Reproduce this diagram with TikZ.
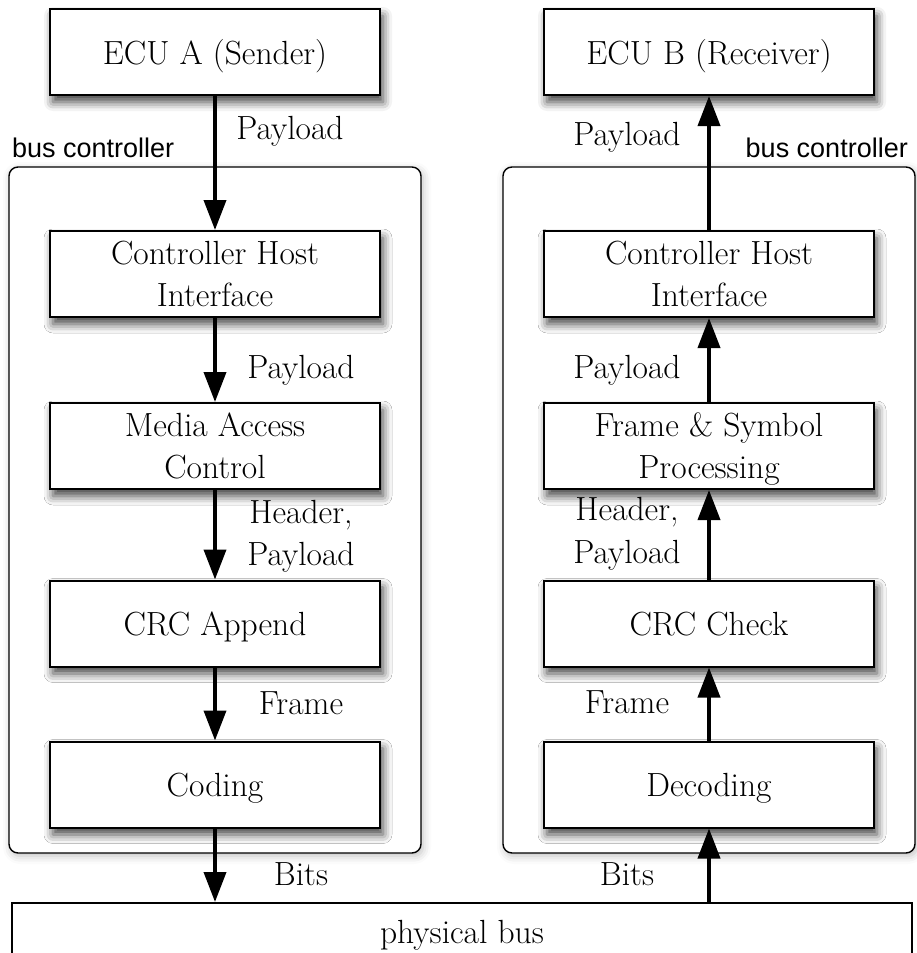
\documentclass[tikz,border=0pt]{standalone}
\usepackage{fontspec}
\newfontfamily\ctrlfont{Liberation Sans}
\usetikzlibrary{arrows.meta,shadows,shadows.blur}

\begin{document}
\begin{tikzpicture}
		[x=1pt,y=-1pt,
		every node/.style={font=\fontsize{33.5}{42}\selectfont},
		plainbox/.style={draw,line width=2pt,fill=white,align=center,inner sep=0pt,text depth=0pt,
			minimum width=330pt,minimum height=86pt},
		blockbox/.style={plainbox,
			blur shadow={shadow xshift=3pt,shadow yshift=-7pt,shadow blur radius=9pt,shadow opacity=75}},
		groupbox/.style={draw,line width=1.4pt,rounded corners=9pt,fill=white,inner sep=0pt,
			minimum width=412pt,minimum height=686pt,
			blur shadow={shadow xshift=2pt,shadow yshift=-3pt,shadow blur radius=8pt,shadow opacity=25}},
		flowlabel/.style={anchor=base,inner sep=0pt},
		ctrllabel/.style={font=\ctrlfont\fontsize{27}{32}\selectfont,inner sep=0pt},
		flowarrow/.style={line width=3.8pt,-{Triangle[width=22pt,length=30pt]}}]
		\useasboundingbox (0,0) rectangle (917,953);

		\node[groupbox] (ctrlA) at (215,510) {};
		\node[groupbox] (ctrlB) at (709,510) {};
		\node[ctrllabel,anchor=base west] (ctrlAlbl) at (12,157) {bus controller};
		\node[ctrllabel,anchor=base east] (ctrlBlbl) at (908,157) {bus controller};

		\node[blockbox] (ecuA) at (215,52) {ECU A (Sender)};
		\node[blockbox] (chiA) at (215,274) {Controller Host\\Interface};
		\node[blockbox] (macA) at (215,446) {Media Access\\Control};
		\node[blockbox] (crcA) at (215,623.5) {CRC Append};
		\node[blockbox] (codA) at (215,784.5) {Coding};

		\node[blockbox] (ecuB) at (709,52) {ECU B (Receiver)};
		\node[blockbox] (chiB) at (709,274) {Controller Host\\Interface};
		\node[blockbox] (fspB) at (709,446) {Frame \& Symbol\\Processing};
		\node[blockbox] (crcB) at (709,623.5) {CRC Check};
		\node[blockbox] (decB) at (709,784.5) {Decoding};

		\node[plainbox,minimum width=900pt,minimum height=58pt] (bus) at (462,932) {physical bus};

		\draw[flowarrow] (ecuA) -- (chiA);
		\draw[flowarrow] (chiA) -- (macA);
		\draw[flowarrow] (macA) -- (crcA);
		\draw[flowarrow] (crcA) -- (codA);
		\draw[flowarrow] (codA.south) -- (codA.south |- bus.north);

		\draw[flowarrow] (decB.south |- bus.north) -- (decB.south);
		\draw[flowarrow] (decB) -- (crcB);
		\draw[flowarrow] (crcB) -- (fspB);
		\draw[flowarrow] (fspB) -- (chiB);
		\draw[flowarrow] (chiB) -- (ecuB);

		\node[flowlabel] (plA1) at (290,139) {Payload};
		\node[flowlabel] (plA2) at (301,378) {Payload};
		\node[flowlabel] (hdA) at (301,523) {Header,};
		\node[flowlabel] (plA3) at (301,565) {Payload};
		\node[flowlabel] (frA) at (301,714) {Frame};
		\node[flowlabel] (btA) at (301,885) {Bits};

		\node[flowlabel] (plB1) at (627,145) {Payload};
		\node[flowlabel] (plB2) at (627,378) {Payload};
		\node[flowlabel] (hdB) at (627,520) {Header,};
		\node[flowlabel] (plB3) at (627,563) {Payload};
		\node[flowlabel] (frB) at (627,713) {Frame};
		\node[flowlabel] (btB) at (627,885) {Bits};
\end{tikzpicture}
\end{document}
